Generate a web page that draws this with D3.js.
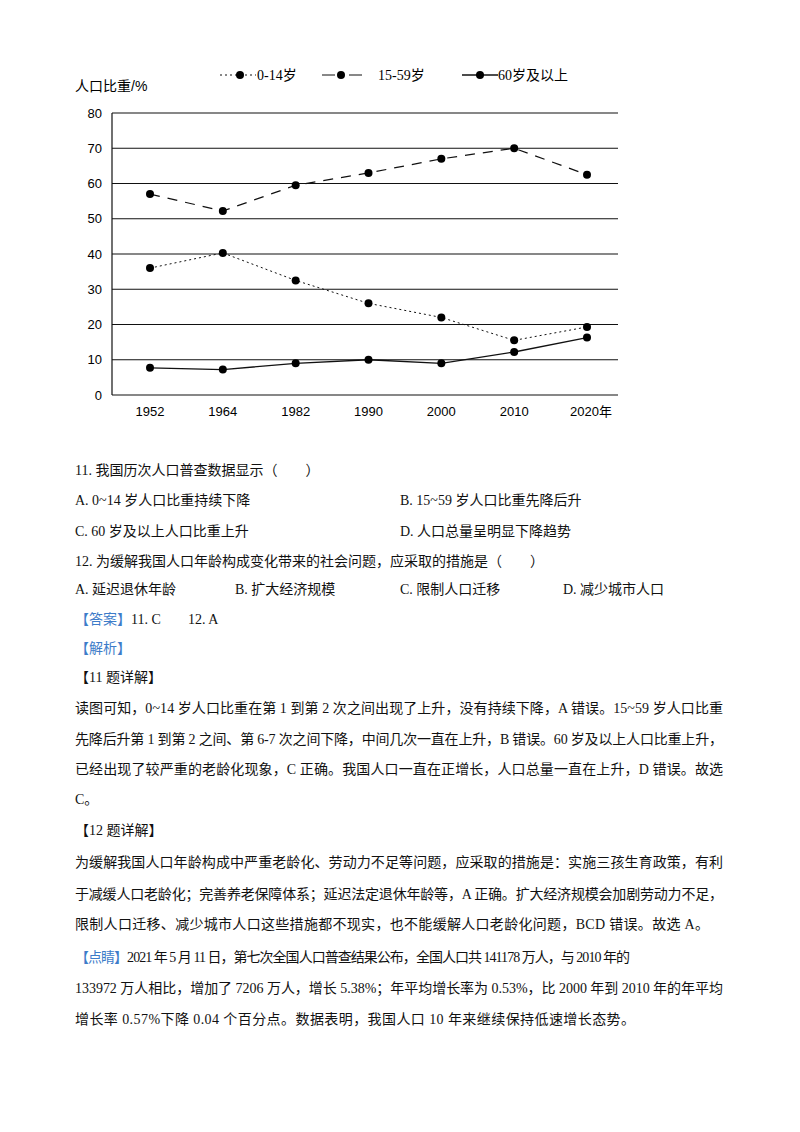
<!DOCTYPE html>
<html><head><meta charset="utf-8">
<script src="https://cdn.jsdelivr.net/npm/d3@7"></script>
<style>body{margin:0;background:#fff}svg{display:block}</style>
</head><body>
<script>
const years = ["1952","1964","1982","1990","2000","2010","2020年"];
const child = [36, 40.3, 32.5, 26, 22, 15.5, 19.3];
const adult = [57, 52.2, 59.5, 63, 67, 70, 62.5];
const elder = [7.7, 7.2, 9, 10, 9, 12.2, 16.3];
const yTicks = [0,10,20,30,40,50,60,70,80];

const svg = d3.select("body").append("svg").attr("width",800).attr("height",1132);
const x = d3.scalePoint().domain(years).range([150,587]);
const y = d3.scaleLinear().domain([0,80]).range([395,113]);
const chartFont = "'Liberation Sans','Noto Sans CJK SC',sans-serif";

svg.append("g").selectAll("line").data(yTicks).join("line")
  .attr("x1",112).attr("x2",618).attr("y1",d=>y(d)).attr("y2",d=>y(d))
  .attr("stroke","#111").attr("stroke-width",1.2);
svg.append("line").attr("x1",112).attr("x2",112).attr("y1",y(80)).attr("y2",y(0)).attr("stroke","#111").attr("stroke-width",1.2);
svg.append("g").selectAll("text").data(yTicks).join("text")
  .attr("x",102).attr("y",d=>y(d)).attr("dy","0.35em").attr("text-anchor","end")
  .attr("font-family",chartFont).attr("font-size",13).text(d=>d);
svg.append("g").selectAll("text").data(years).join("text")
  .attr("x",(d,i)=>x(d)+(i==6?4:0)).attr("y",411).attr("dy","0.35em").attr("text-anchor","middle")
  .attr("font-family",chartFont).attr("font-size",13).text(d=>d);
svg.append("text").attr("x",75).attr("y",86).attr("dy","0.35em").attr("font-family",chartFont).attr("font-size",14).text("人口比重/%");

const series = [
  {vals:child, dash:"2,3", w:1},
  {vals:adult, dash:"10,8", w:1.2},
  {vals:elder, dash:null, w:1.3}
];
const line = d3.line().x((d,i)=>x(years[i])).y(d=>y(d));
series.forEach(s=>{
  svg.append("path").attr("d",line(s.vals)).attr("fill","none").attr("stroke","#111")
    .attr("stroke-width",s.w).attr("stroke-dasharray",s.dash);
  svg.append("g").selectAll("circle").data(s.vals).join("circle")
    .attr("cx",(d,i)=>x(years[i])).attr("cy",d=>y(d)).attr("r",4).attr("fill","#000");
});

const lg = svg.append("g").attr("font-family","'Liberation Serif','Noto Sans CJK SC',serif").attr("font-size",14);
lg.append("line").attr("x1",220).attr("x2",256).attr("y1",75).attr("y2",75).attr("stroke","#111").attr("stroke-dasharray","2,3");
lg.append("circle").attr("cx",240).attr("cy",75).attr("r",4);
lg.append("text").attr("x",257).attr("y",75).attr("dy","0.35em").text("0-14岁");
lg.append("line").attr("x1",322).attr("x2",362).attr("y1",75).attr("y2",75).attr("stroke","#111").attr("stroke-dasharray","13,14");
lg.append("circle").attr("cx",341).attr("cy",75).attr("r",4);
lg.append("text").attr("x",378).attr("y",75).attr("dy","0.35em").text("15-59岁");
lg.append("line").attr("x1",462).attr("x2",498).attr("y1",75).attr("y2",75).attr("stroke","#111").attr("stroke-width",1.3);
lg.append("circle").attr("cx",480).attr("cy",75).attr("r",4);
lg.append("text").attr("x",498).attr("y",75).attr("dy","0.35em").text("60岁及以上");

const tf = "'Liberation Serif','Noto Sans CJK SC',serif";
const blue = "#3d7cc9";
const items = [
  {x:75,y:470,t:"11. 我国历次人口普查数据显示（　　）"},
  {x:75,y:500,t:"A. 0~14 岁人口比重持续下降"},{x:400,y:500,t:"B. 15~59 岁人口比重先降后升"},
  {x:75,y:531,t:"C. 60 岁及以上人口比重上升"},{x:400,y:531,t:"D. 人口总量呈明显下降趋势"},
  {x:75,y:561,t:"12. 为缓解我国人口年龄构成变化带来的社会问题，应采取的措施是（　　）"},
  {x:75,y:589,t:"A. 延迟退休年龄"},{x:235,y:589,t:"B. 扩大经济规模"},{x:400,y:589,t:"C. 限制人口迁移"},{x:563,y:589,t:"D. 减少城市人口"},
  {x:75,y:648,t:"【解析】",c:blue},
  {x:75,y:677,t:"【11 题详解】"},
  {x:75,y:708,t:"读图可知，0~14 岁人口比重在第 1 到第 2 次之间出现了上升，没有持续下降，A 错误。15~59 岁人口比重",w:648},
  {x:75,y:739,t:"先降后升第 1 到第 2 之间、第 6-7 次之间下降，中间几次一直在上升，B 错误。60 岁及以上人口比重上升，",w:648},
  {x:75,y:769,t:"已经出现了较严重的老龄化现象，C 正确。我国人口一直在正增长，人口总量一直在上升，D 错误。故选",w:648},
  {x:75,y:799,t:"C。"},
  {x:75,y:830,t:"【12 题详解】"},
  {x:75,y:862,t:"为缓解我国人口年龄构成中严重老龄化、劳动力不足等问题，应采取的措施是：实施三孩生育政策，有利",w:648},
  {x:75,y:894,t:"于减缓人口老龄化；完善养老保障体系；延迟法定退休年龄等，A 正确。扩大经济规模会加剧劳动力不足，",w:648},
  {x:75,y:924,t:"限制人口迁移、减少城市人口这些措施都不现实，也不能缓解人口老龄化问题，BCD 错误。故选 A。",w:634},
  {x:75,y:957,p:"【点睛】",t:"2021 年 5 月 11 日，第七次全国人口普查结果公布，全国人口共 141178 万人，与 2010 年的",w:555},
  {x:75,y:988,t:"133972 万人相比，增加了 7206 万人，增长 5.38%；年平均增长率为 0.53%，比 2000 年到 2010 年的年平均",w:648},
  {x:75,y:1019,t:"增长率 0.57%下降 0.04 个百分点。数据表明，我国人口 10 年来继续保持低速增长态势。",w:560}
];
const tg = svg.append("g").attr("font-family",tf).attr("font-size",14).attr("fill","#111");
items.forEach(it=>{
  const t = tg.append("text").attr("x",it.x).attr("y",it.y).attr("dy","0.35em");
  if(it.p){
    t.append("tspan").attr("fill",blue).text(it.p);
    t.append("tspan").text(it.t);
  } else t.text(it.t);
  if(it.c) t.attr("fill",it.c);
  if(it.w) t.attr("textLength",it.w).attr("lengthAdjust","spacing");
});
const ans = tg.append("text").attr("x",75).attr("y",619).attr("dy","0.35em");
ans.append("tspan").attr("fill",blue).text("【答案】");
ans.append("tspan").text("11. C");
tg.append("text").attr("x",188).attr("y",619).attr("dy","0.35em").text("12. A");
</script>
</body></html>
